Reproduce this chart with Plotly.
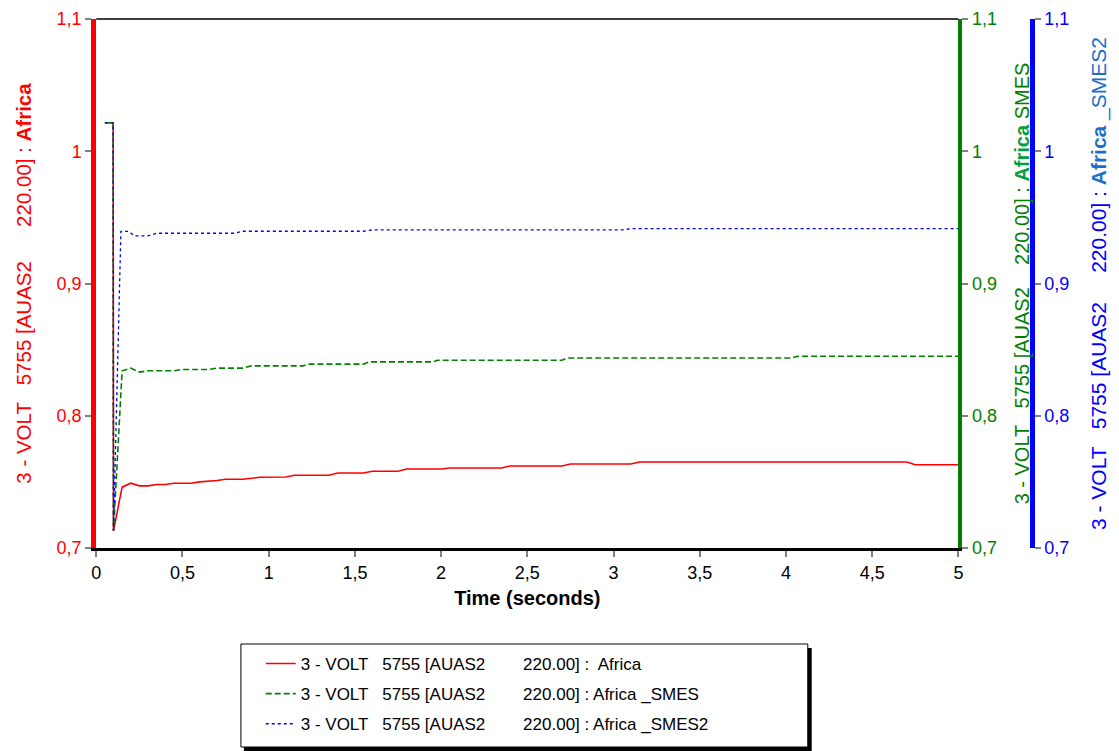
import plotly.graph_objects as go

# ---------------- data ----------------
t_red = [0.05, 0.098, 0.1, 0.15, 0.2, 0.25, 0.3, 0.35, 0.4, 0.45, 0.55, 0.6, 0.7, 0.75, 0.85, 0.95,
         1.1, 1.15, 1.35, 1.4, 1.55, 1.6, 1.75, 1.8, 2.0, 2.05, 2.35, 2.4, 2.7, 2.75, 3.1, 3.15,
         4.7, 4.75, 5.0]
v_red = [1.0215, 1.0215, 0.713, 0.746, 0.749, 0.747, 0.747, 0.748, 0.748, 0.749, 0.749, 0.750,
         0.751, 0.752, 0.752, 0.7535, 0.7537, 0.755, 0.755, 0.7567, 0.7567, 0.758, 0.758, 0.7597,
         0.7597, 0.7605, 0.7605, 0.762, 0.762, 0.7635, 0.7635, 0.765, 0.765, 0.763, 0.763]

t_green = [0.05, 0.098, 0.1, 0.15, 0.2, 0.25, 0.3, 0.45, 0.5, 0.65, 0.7, 0.85, 0.9, 1.2, 1.23,
           1.55, 1.58, 1.95, 1.98, 2.7, 2.73, 4.03, 4.07, 5.0]
v_green = [1.0215, 1.0215, 0.713, 0.834, 0.836, 0.833, 0.834, 0.834, 0.835, 0.835, 0.836, 0.836,
           0.8377, 0.8377, 0.839, 0.839, 0.8407, 0.8407, 0.842, 0.842, 0.8437, 0.8437, 0.845, 0.845]

t_blue = [0.05, 0.098, 0.1, 0.143, 0.19, 0.22, 0.3, 0.35, 0.8, 0.85, 1.55, 1.6, 3.05, 3.1, 5.0]
v_blue = [1.0215, 1.0215, 0.713, 0.9394, 0.9394, 0.936, 0.936, 0.938, 0.938, 0.9395, 0.9395,
          0.9405, 0.9405, 0.9415, 0.9415]

x_ticks = [0, 0.5, 1, 1.5, 2, 2.5, 3, 3.5, 4, 4.5, 5]
x_tick_labels = ["0", "0,5", "1", "1,5", "2", "2,5", "3", "3,5", "4", "4,5", "5"]
y_ticks = [0.7, 0.8, 0.9, 1.0, 1.1]
y_tick_labels = ["0,7", "0,8", "0,9", "1", "1,1"]

names = [
    "3 - VOLT   5755 [AUAS2        220.00] :  Africa",
    "3 - VOLT   5755 [AUAS2        220.00] : Africa _SMES",
    "3 - VOLT   5755 [AUAS2        220.00] : Africa _SMES2",
]

# ---------------- figure ----------------
# page has an 8px body margin: the figure is drawn 8px right/down of page origin
OFF = 8
W, H = 1119 - OFF, 751 - OFF
L_PX, R_PX, T_PX, B_PX = 92, 962, 19, 548   # page pixel positions of plot area
ph = B_PX - T_PX

def px_x(p):
    return (p - OFF) / W

def px_y(p):
    return (B_PX - p) / ph

RED, GREEN, BLUE = "#ff0000", "#008000", "#0000ff"
FONT = "Liberation Sans, Arial, sans-serif"

fig = go.Figure()
fig.add_trace(go.Scatter(x=t_red, y=v_red, mode="lines", name=names[0], legendgroup="a",
                         line=dict(color=RED, width=1.6), yaxis="y"))
fig.add_trace(go.Scatter(x=t_green, y=v_green, mode="lines", name=names[1], legendgroup="b",
                         line=dict(color=GREEN, width=1.6, dash="6px,3px"), yaxis="y2"))
fig.add_trace(go.Scatter(x=t_blue, y=v_blue, mode="lines", name=names[2], legendgroup="c",
                         line=dict(color=BLUE, width=1.3, dash="dot"), yaxis="y3"))

common_y = dict(range=[0.7, 1.1], tickvals=y_ticks, ticktext=y_tick_labels,
                ticks="outside", ticklen=6, tickcolor="#808080", tickwidth=1.5,
                showgrid=False, zeroline=False, showline=True)

fig.update_layout(
    width=W, height=H, autosize=False,
    margin=dict(l=0, r=0, t=T_PX - OFF, b=H - (B_PX - OFF)),
    plot_bgcolor="white", paper_bgcolor="white",
    font=dict(family=FONT, size=18, color="black"),
    xaxis=dict(domain=[px_x(L_PX), px_x(R_PX)], range=[0, 5],
               tickvals=x_ticks, ticktext=x_tick_labels,
               ticks="outside", ticklen=6, tickcolor="#808080", tickwidth=1.5,
               showline=True, linecolor="black", linewidth=3,
               showgrid=False, zeroline=False,
               tickfont=dict(size=18, color="black"),
               title=dict(text="<b>Time (seconds)</b>", font=dict(size=20, color="black"),
                          standoff=10)),
    yaxis=dict(**common_y, side="left", anchor="x",
               linecolor=RED, linewidth=5,
               tickfont=dict(size=18, color=RED),
               title=dict(text="3 - VOLT   5755 [AUAS2      220.00] : <b>Africa</b>",
                          font=dict(size=20.5, color=RED), standoff=21)),
    yaxis2=dict(**common_y, side="right", anchor="x", overlaying="y",
                linecolor=GREEN, linewidth=4,
                tickfont=dict(size=18, color=GREEN),
                title=dict(text="3 - VOLT   5755 [AUAS2    220.00] : <span style='color:#00a040'><b>Africa</b></span> SMES",
                           font=dict(size=20, color=GREEN), standoff=20)),
    yaxis3=dict(**common_y, side="right", anchor="free", overlaying="y",
                position=px_x(1036),
                linecolor=BLUE, linewidth=5,
                tickfont=dict(size=18, color=BLUE),
                title=dict(text="3 - VOLT   5755 [AUAS2     220.00] : <span style='color:#1a6fc9'><b>Africa</b> _SMES2</span>",
                           font=dict(size=21, color=BLUE), standoff=22)),
    legend=dict(x=px_x(258), y=px_y(646), xanchor="left", yanchor="top",
                bgcolor="rgba(0,0,0,0)", borderwidth=0,
                font=dict(size=17, color="black", family=FONT),
                tracegroupgap=5, itemwidth=30),
    showlegend=True,
    shapes=[
        # top border of plot frame
        dict(type="line", xref="paper", yref="paper",
             x0=px_x(L_PX), x1=px_x(R_PX), y0=1, y1=1,
             line=dict(color="black", width=1.5)),
        # legend shadow
        dict(type="rect", xref="paper", yref="paper", layer="below",
             x0=px_x(241), x1=px_x(814), y0=px_y(751), y1=px_y(648),
             fillcolor="black", line=dict(width=0)),
        # legend box
        dict(type="rect", xref="paper", yref="paper", layer="below",
             x0=px_x(238), x1=px_x(810), y0=px_y(747), y1=px_y(644),
             fillcolor="white", line=dict(color="black", width=1)),
    ],
)

fig.write_html("out.html")
